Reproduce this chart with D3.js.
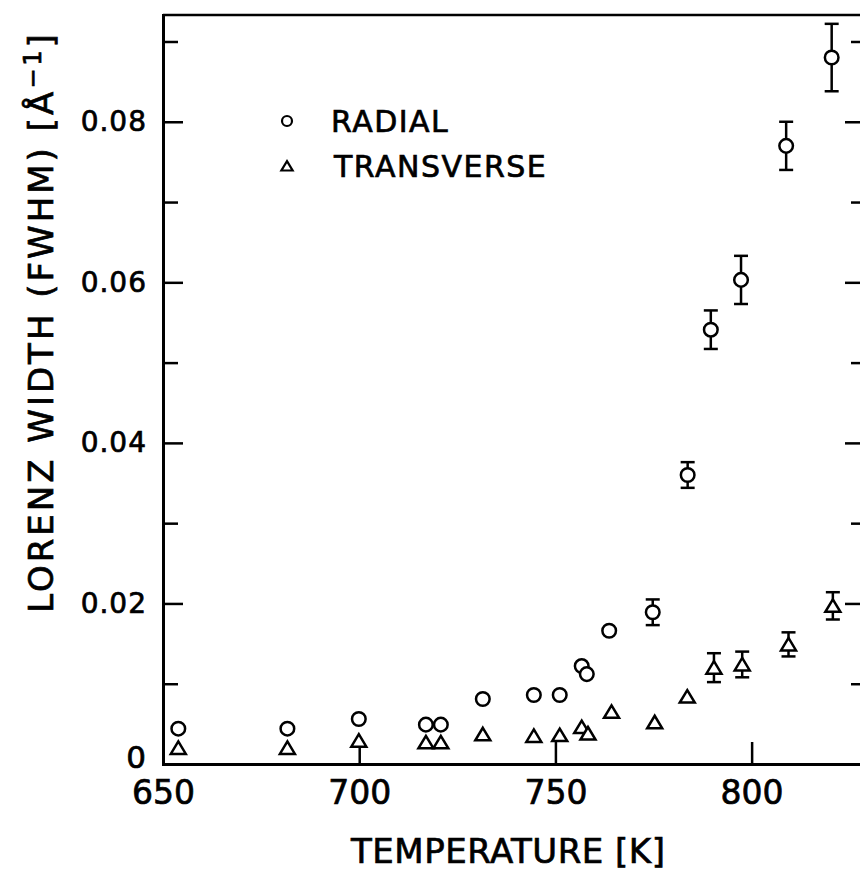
<!DOCTYPE html>
<html>
<head>
<meta charset="utf-8">
<script src="https://cdn.jsdelivr.net/npm/d3@7"></script>
<style>
  html, body { margin: 0; padding: 0; background: #fff; }
  svg { display: block; font-family: "DejaVu Sans", sans-serif; }
  svg text { stroke: #000; stroke-width: 0.7px; }
</style>
</head>
<body>
<div id="chart"></div>
<script>
// values
const radialT = [653.9, 681.7, 699.9, 717.0, 720.8, 731.5, 744.5, 751.1, 756.7, 758.0, 763.7, 774.8, 783.7, 789.6, 797.3, 808.8, 820.4];
const radialW = [0.0044, 0.0044, 0.0056, 0.0049, 0.0049, 0.0081, 0.0086, 0.0086, 0.0122, 0.0112, 0.0166, 0.0189, 0.0360, 0.0541, 0.0603, 0.0770, 0.0880];
const radialErr = [0, 0, 0, 0, 0, 0, 0, 0, 0, 0, 0, 0.0016, 0.0016, 0.0024, 0.0030, 0.0030, 0.0042];

const transT = [653.9, 681.7, 699.9, 717.0, 720.8, 731.5, 744.5, 751.1, 756.7, 758.3, 764.3, 775.3, 783.6, 790.4, 797.6, 809.4, 820.7];
const transW = [0.0020, 0.0020, 0.0029, 0.0027, 0.0027, 0.0037, 0.0035, 0.0036, 0.0046, 0.0038, 0.0065, 0.0052, 0.0084, 0.0120, 0.0124, 0.0149, 0.0197];
const transErr = [0, 0, 0, 0, 0, 0, 0, 0, 0, 0, 0, 0, 0, 0.0018, 0.0016, 0.0015, 0.0017];

const xTicks = [650, 700, 750, 800];
const yMajor = [0, 0.02, 0.04, 0.06, 0.08];
const yMinor = [0.01, 0.03, 0.05, 0.07, 0.09];
const legendLabels = ["RADIAL", "TRANSVERSE"];

const width = 860, height = 873;
const font = "DejaVu Sans, sans-serif";

const x = d3.scaleLinear().domain([650, 828]).range([163, 861.5]);
const y = d3.scaleLinear().domain([0, 0.0933]).range([764, 15]);

const radial = radialT.map((t, i) => ({ t: t, w: radialW[i], e: radialErr[i] }));
const trans = transT.map((t, i) => ({ t: t, w: transW[i], e: transErr[i] }));

const svg = d3.select("#chart").append("svg")
  .attr("width", width)
  .attr("height", height);

svg.append("rect").attr("width", width).attr("height", height).attr("fill", "#fff");

const fmt = (d) => (d === 0 ? "0" : d3.format(".2f")(d));

// bottom axis, ticks pointing into the plot
const xAxis = svg.append("g")
  .attr("transform", `translate(0,${y(0)})`)
  .call(d3.axisBottom(x).tickValues(xTicks).tickSizeInner(-22).tickSizeOuter(0).tickPadding(17).tickFormat(d3.format("d")));
xAxis.attr("font-family", font);
xAxis.selectAll("text").attr("font-size", 33).attr("fill", "#000");

// left axis, majors with labels and minors
const yAxis = svg.append("g")
  .attr("transform", `translate(${x(650)},0)`)
  .call(d3.axisLeft(y).tickValues(yMajor).tickSizeInner(-20).tickSizeOuter(0).tickPadding(16).tickFormat(fmt));
yAxis.attr("font-family", font);
yAxis.selectAll("text").attr("font-size", 28).attr("fill", "#000").attr("letter-spacing", 1);
yAxis.selectAll("text").filter((d) => d === 0)
  .attr("font-size", 31).attr("dy", "0.12em");

svg.append("g")
  .attr("transform", `translate(${x(650)},0)`)
  .call(d3.axisLeft(y).tickValues(yMinor).tickSizeInner(-15).tickSizeOuter(0).tickFormat(""))
  .select(".domain").remove();

// right axis (mostly outside the picture)
const rightX = 862;
svg.append("g")
  .attr("transform", `translate(${rightX},0)`)
  .call(d3.axisRight(y).tickValues(yMajor.slice(1)).tickSizeInner(-17).tickSizeOuter(0).tickFormat(""));
svg.append("g")
  .attr("transform", `translate(${rightX},0)`)
  .call(d3.axisRight(y).tickValues(yMinor).tickSizeInner(-11).tickSizeOuter(0).tickFormat(""))
  .select(".domain").remove();

// top frame
svg.append("line")
  .attr("x1", x(650)).attr("x2", rightX)
  .attr("y1", y.range()[1]).attr("y2", y.range()[1])
  .attr("stroke", "#000").attr("stroke-width", 2.5);

svg.selectAll(".domain").attr("stroke-width", 3).attr("stroke-linecap", "square");
svg.selectAll(".tick line").attr("stroke-width", 2.5);

// error bars
const withErr = radial.concat(trans).filter((d) => d.e > 0);
const bars = svg.append("g").attr("stroke", "#000").attr("stroke-width", 2.5);
bars.selectAll("line.bar").data(withErr).join("line")
  .attr("class", "bar")
  .attr("x1", (d) => x(d.t)).attr("x2", (d) => x(d.t))
  .attr("y1", (d) => y(d.w - d.e)).attr("y2", (d) => y(d.w + d.e));
bars.selectAll("line.capTop").data(withErr).join("line")
  .attr("class", "capTop")
  .attr("x1", (d) => x(d.t) - 7).attr("x2", (d) => x(d.t) + 7)
  .attr("y1", (d) => y(d.w + d.e)).attr("y2", (d) => y(d.w + d.e));
bars.selectAll("line.capBot").data(withErr).join("line")
  .attr("class", "capBot")
  .attr("x1", (d) => x(d.t) - 7).attr("x2", (d) => x(d.t) + 7)
  .attr("y1", (d) => y(d.w - d.e)).attr("y2", (d) => y(d.w - d.e));

const triPath = (s) => `M0,${-6.5 * s}L${7.5 * s},${6 * s}L${-7.5 * s},${6 * s}Z`;

// markers
svg.append("g").selectAll("circle").data(radial).join("circle")
  .attr("cx", (d) => x(d.t)).attr("cy", (d) => y(d.w)).attr("r", 6.8)
  .attr("fill", "#fff").attr("stroke", "#000").attr("stroke-width", 2.5);

svg.append("g").selectAll("path").data(trans).join("path")
  .attr("transform", (d) => `translate(${x(d.t)},${y(d.w)})`)
  .attr("d", triPath(1))
  .attr("fill", "#fff").attr("stroke", "#000").attr("stroke-width", 2.5)
  .attr("stroke-linejoin", "miter");

// legend
const legend = svg.append("g").attr("transform", "translate(287,0)");
legend.append("circle").attr("cx", 0).attr("cy", 121).attr("r", 5)
  .attr("fill", "#fff").attr("stroke", "#000").attr("stroke-width", 2.2);
legend.append("path").attr("transform", "translate(0,166)").attr("d", triPath(0.75))
  .attr("fill", "#fff").attr("stroke", "#000").attr("stroke-width", 2.2);
legend.selectAll("text").data(legendLabels).join("text")
  .attr("x", (d, i) => (i === 0 ? 44 : 47))
  .attr("y", (d, i) => (i === 0 ? 132 : 177))
  .attr("font-size", 30)
  .attr("letter-spacing", 1.5)
  .text((d) => d);

// axis titles
svg.append("text")
  .attr("x", (x(650) + x(828)) / 2 - 4)
  .attr("y", 863)
  .attr("text-anchor", "middle")
  .attr("font-size", 34)
  .attr("letter-spacing", 0.5)
  .text("TEMPERATURE [K]");

const yTitle = svg.append("text")
  .attr("transform", "translate(53,322) rotate(-90)")
  .attr("text-anchor", "middle")
  .attr("font-size", 34)
  .attr("letter-spacing", 3);
yTitle.append("tspan").text("LORENZ WIDTH (FWHM) [Å");
yTitle.append("tspan").attr("dy", -12).attr("font-size", 24).text("−1");
yTitle.append("tspan").attr("dy", 12).text("]");
</script>
</body>
</html>
